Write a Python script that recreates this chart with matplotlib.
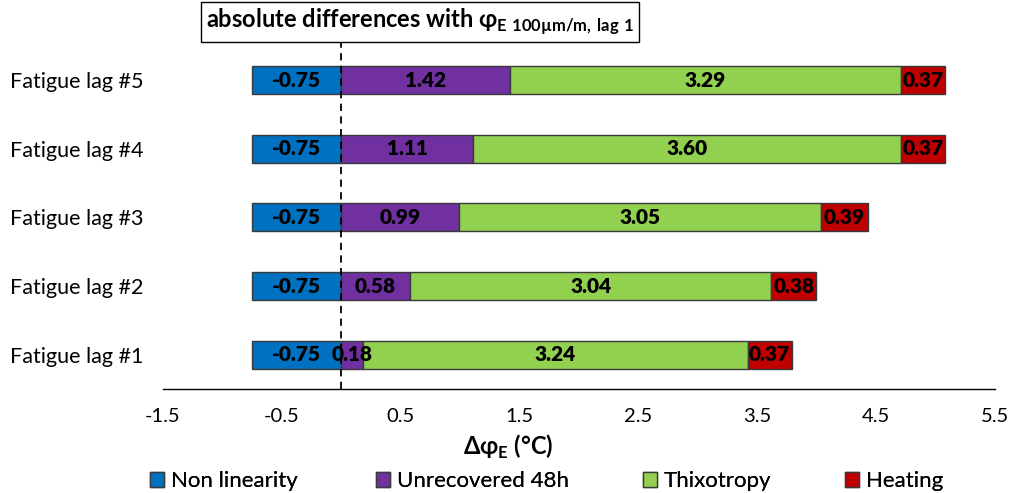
import matplotlib
matplotlib.use("Agg")
import matplotlib.pyplot as plt
import matplotlib.patches as mpatches
import numpy as np

plt.rcParams["font.family"] = ["Lato", "Open Sans", "DejaVu Sans"]
plt.rcParams["mathtext.fontset"] = "custom"
plt.rcParams["mathtext.rm"] = "Lato"
plt.rcParams["mathtext.bf"] = "Lato:bold"

categories = ["Fatigue lag #1", "Fatigue lag #2", "Fatigue lag #3",
              "Fatigue lag #4", "Fatigue lag #5"]
non_linearity = [-0.75, -0.75, -0.75, -0.75, -0.75]
unrecovered = [0.18, 0.58, 0.99, 1.11, 1.42]
thixotropy = [3.24, 3.04, 3.05, 3.60, 3.29]
heating = [0.37, 0.38, 0.39, 0.37, 0.37]
series_names = ["Non linearity", "Unrecovered 48h", "Thixotropy", "Heating"]
colors = ["#0070C0", "#7030A0", "#92D050", "#C00000"]
xticks = [-1.5, -0.5, 0.5, 1.5, 2.5, 3.5, 4.5, 5.5]

W, H = 1015, 493
fig = plt.figure(figsize=(W / 100, H / 100), dpi=100)
ax = fig.add_axes([0.1606, 0.211, 0.8194, 0.696])

y = np.arange(len(categories))
h = 0.41
edge = "#3a3a3a"
lab_fs = 15
lab_w = "heavy"

# negative part
bars = ax.barh(y, non_linearity, height=h, color=colors[0], edgecolor=edge,
               linewidth=1, label=series_names[0])
ax.bar_label(bars, labels=[f"{v:.2f}" for v in non_linearity],
             label_type="center", fontsize=lab_fs, fontweight=lab_w)
handles = [bars]

# positive stack from zero
left = np.zeros(len(categories))
for vals, name, c in zip([unrecovered, thixotropy, heating], series_names[1:], colors[1:]):
    bars = ax.barh(y, vals, left=left, height=h, color=c, edgecolor=edge,
                   linewidth=1, label=name)
    ax.bar_label(bars, labels=[f"{v:.2f}" for v in vals],
                 label_type="center", fontsize=lab_fs, fontweight=lab_w)
    handles.append(bars)
    left = left + np.array(vals)

ax.set_xlim(-1.5, 5.5)
ax.set_ylim(-0.5, 4.5)
ax.set_xticks(xticks)
ax.set_xticklabels([f"{t:.1f}" for t in xticks], fontsize=14.5)
ax.set_yticks(y)
ax.set_yticklabels(categories, fontsize=15.5)
ax.tick_params(axis="both", length=0)
ax.tick_params(axis="x", pad=14)
ax.tick_params(axis="y", pad=14)
for s in ["top", "right", "left"]:
    ax.spines[s].set_visible(False)
ax.spines["bottom"].set_color("black")
ax.spines["bottom"].set_linewidth(1)

ax.axvline(0, ymin=0, ymax=1.025, color="black", linestyle=(0, (4, 3)),
           linewidth=1.3, clip_on=False, zorder=5)

# x label sits left of the axis centre in the original
fig.text(508 / W, 1 - 447 / H, r"Δφ$_{\mathbf{E}}$ (°C)", ha="center", va="center",
         fontsize=17, fontweight="bold")

fig.text(420 / W, 1 - 22 / H, r"absolute differences with φ$_{\mathbf{E\ 100µm/m,\,lag\ 1}}$",
         ha="center", va="center", fontsize=17, fontweight="bold",
         bbox=dict(boxstyle="square,pad=0.22", facecolor="white",
                   edgecolor="black", linewidth=1))

# legend entries placed individually to follow the original spacing
leg_x = [150, 376, 643, 845]
for hnd, name, x in zip(handles, series_names, leg_x):
    proxy = mpatches.Patch(facecolor=hnd.patches[0].get_facecolor(),
                           edgecolor=edge, linewidth=1)
    lg = fig.legend(handles=[proxy], labels=[name], loc="center left",
                    bbox_to_anchor=(x / W, 1 - 481 / H), frameon=False,
                    fontsize=16, handlelength=0.65, handleheight=0.65,
                    handletextpad=0.3, borderpad=0, borderaxespad=0)
    fig.add_artist(lg)

fig.savefig("out.png", dpi=100)
